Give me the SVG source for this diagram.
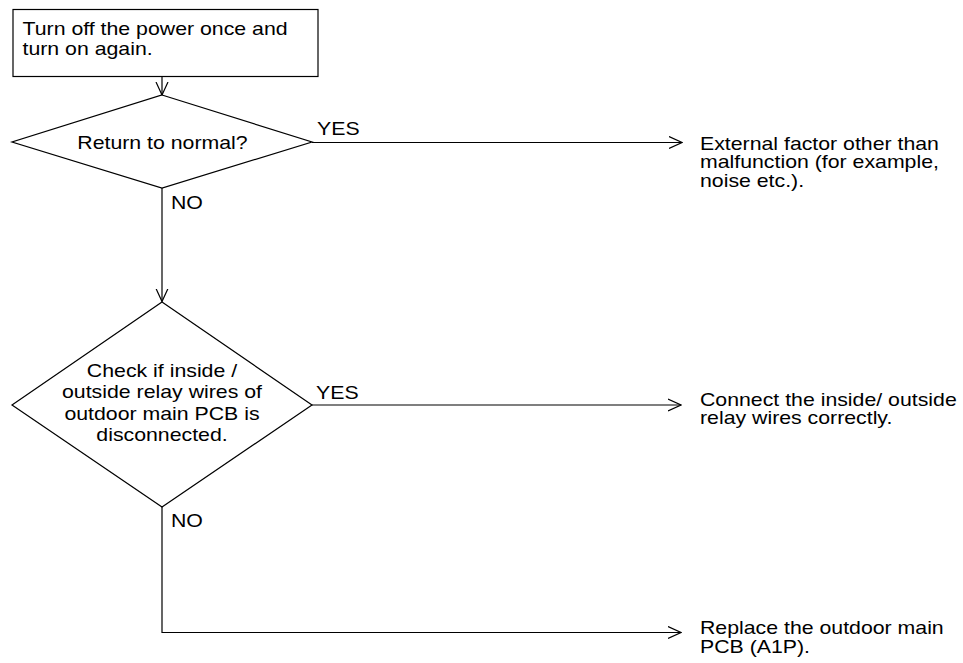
<svg xmlns="http://www.w3.org/2000/svg" width="963" height="663" viewBox="0 0 963 663">
<defs>
<style>
.t{font-family:"Liberation Sans",Arial,Helvetica,sans-serif;font-size:18.6px;fill:#000}
.r{font-size:18px}
.c{text-anchor:middle}
.s{fill:none;stroke:#000;stroke-width:1.2}
.w{fill:#fff;stroke:#000;stroke-width:1.2}
</style>
<marker id="ah" markerUnits="userSpaceOnUse" viewBox="0 0 14 14" refX="13" refY="7" markerWidth="14" markerHeight="14" orient="auto">
<path d="M0,1 L13,7 L0,13" fill="none" stroke="#000" stroke-width="1.2"/>
</marker>
</defs>
<rect width="963" height="663" fill="#fff"/>
<g id="connectors">
<path class="s" d="M162,77 V95" marker-end="url(#ah)"/>
<path class="s" d="M312,142.5 H682" marker-end="url(#ah)"/>
<path class="s" d="M162,188 V301.5" marker-end="url(#ah)"/>
<path class="s" d="M312,405 H681" marker-end="url(#ah)"/>
<path class="s" d="M162,507 V632.5 H681" marker-end="url(#ah)"/>
<text class="t" transform="translate(317,135) scale(1.145 1)">YES</text>
<text class="t" transform="translate(171,208.5) scale(1.145 1)">NO</text>
<text class="t" transform="translate(316,398.5) scale(1.145 1)">YES</text>
<text class="t" transform="translate(171,527) scale(1.145 1)">NO</text>
</g>
<g id="start">
<rect class="w" x="13" y="9.5" width="305" height="67"/>
<text class="t" transform="translate(22.5,35) scale(1.145 1)"><tspan x="0" y="0">Turn off the power once and</tspan><tspan x="0" y="20.5">turn on again.</tspan></text>
</g>
<g id="decision1">
<path class="w" d="M162,95 L312,142 L162,188 L12,142 Z"/>
<text class="t c" transform="translate(162.5,148.5) scale(1.145 1)">Return to normal?</text>
</g>
<g id="result1">
<text class="t r" transform="translate(700,149.5) scale(1.183 1)"><tspan x="0" y="0">External factor other than</tspan><tspan x="0" y="18.6">malfunction (for example,</tspan><tspan x="0" y="37.2">noise etc.).</tspan></text>
</g>
<g id="decision2">
<path class="w" d="M162,302 L312,405 L162,507 L12,405 Z"/>
<text class="t c" transform="translate(162,377) scale(1.145 1)"><tspan x="0" y="0">Check if inside /</tspan><tspan x="0" y="21.5">outside relay wires of</tspan><tspan x="0" y="43">outdoor main PCB is</tspan><tspan x="0" y="64.5">disconnected.</tspan></text>
</g>
<g id="result2">
<text class="t r" transform="translate(700,405.5) scale(1.183 1)"><tspan x="0" y="0">Connect the inside/ outside</tspan><tspan x="0" y="18.6">relay wires correctly.</tspan></text>
</g>
<g id="result3">
<text class="t r" transform="translate(700,634) scale(1.183 1)"><tspan x="0" y="0">Replace the outdoor main</tspan><tspan x="0" y="18.6">PCB (A1P).</tspan></text>
</g>
</svg>
